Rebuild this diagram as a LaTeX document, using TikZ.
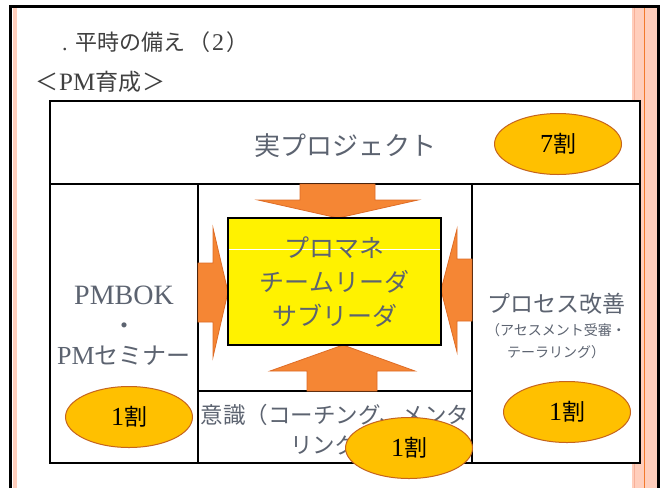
\documentclass[tikz,border=0pt]{standalone}
\usepackage{fontspec}
\setmainfont{Liberation Serif}
\newfontfamily\jp{Noto Sans CJK JP}
\usetikzlibrary{shapes.geometric}
\definecolor{txt}{RGB}{92,99,112}
\definecolor{ttl}{RGB}{64,64,64}
\definecolor{arrowfill}{RGB}{245,134,52}
\definecolor{arrowdraw}{RGB}{222,108,38}
\definecolor{ellfill}{RGB}{255,192,0}
\definecolor{elldraw}{RGB}{197,100,30}
\definecolor{peach}{RGB}{255,206,188}
\definecolor{peachdark}{RGB}{248,176,152}
\definecolor{orangeline}{RGB}{242,122,44}
\tikzset{
  cell/.style={draw=black, line width=1.5pt},
  blockarrow/.style={fill=arrowfill, draw=arrowdraw, line width=0.8pt, line join=miter},
  ratio/.style={ellipse, fill=ellfill, draw=elldraw, line width=1pt, minimum width=127pt, minimum height=61pt, inner sep=0pt, text=black, font=\fontsize{23}{27}\selectfont},
  lbl/.style={text=txt, align=center, inner sep=0pt},
}
\newcommand\lat[1]{{\fontsize{26}{30}\selectfont #1}}
\begin{document}
\begin{tikzpicture}[x=1pt,y=-1pt]
\useasboundingbox (0,0) rectangle (666,488);
\fill[white] (0,0) rectangle (666,488);
% slide frame
\fill[peach] (12.5,7) rectangle (16.5,488);
\fill[peach] (632,7) rectangle (657,488);
\draw[peachdark, line width=1pt] (634,7) -- (634,488);
\draw[orangeline, line width=1.4pt] (644.5,7) -- (644.5,488);
\draw[black, line width=3pt, line join=miter] (10.5,488) -- (10.5,6) -- (658.5,6) -- (658.5,488);
% titles
\node[anchor=west, text=ttl, inner sep=0pt, font=\fontsize{22}{26}\selectfont] (title) at (62,42) {. {\jp 平時の備え}\hspace{3pt}{\jp （}\hspace{2pt}{\fontsize{24}{26}\selectfont 2}\hspace{2pt}{\jp ）}};
\node[anchor=west, text=ttl, inner sep=0pt, font=\fontsize{23}{26}\selectfont] (subtitle) at (35,82) {{\jp ＜}\hspace{1pt}{\fontsize{25}{26}\selectfont PM}{\jp 育成}\hspace{1pt}{\jp ＞}};
% table
\filldraw[cell, fill=white] (50,101) rectangle (640,463);
\draw[cell] (50,184) -- (640,184);
\draw[cell] (198,184) -- (198,463);
\draw[cell] (472,184) -- (472,463);
\draw[cell] (198,391) -- (472,391);
% block arrows
\draw[blockarrow] (300,184) -- (375,184) -- (375,200) -- (418,200) -- (338,218) -- (258,200) -- (300,200) -- cycle;
\draw[blockarrow] (307,391) -- (377,391) -- (377,371) -- (415,371) -- (343,345) -- (270,371) -- (307,371) -- cycle;
\draw[blockarrow] (198,263) -- (213,263) -- (213,228) -- (228,292) -- (213,357) -- (213,322) -- (198,322) -- cycle;
\draw[blockarrow] (472,259) -- (457,259) -- (457,229) -- (441,290) -- (457,352) -- (457,321) -- (472,321) -- cycle;
% central box
\node[draw=black, line width=1.2pt, fill=yellow, minimum width=213pt, minimum height=127pt, inner sep=0pt] (core) at (334.5,281.5) {};
\draw[white, line width=0.6pt] (229,249) -- (440,249);
\node[lbl, font=\jp\fontsize{25}{34}\selectfont] (coretext) at (core.center) {プロマネ\\チームリーダ\\サブリーダ};
% labels
\node[lbl, font=\jp\fontsize{26}{30}\selectfont] (real) at (345,146) {実プロジェクト};
\node[lbl, font=\fontsize{24}{30}\selectfont] (pmbok) at (124,326) {{\fontsize{28}{30}\selectfont PMBOK}\\{\jp ・}\\\lat{PM}{\jp セミナー}};
\node[lbl, font=\jp\fontsize{23}{27}\selectfont] (proc) at (556,304) {プロセス改善};
\node[lbl, font=\jp\fontsize{14}{22}\selectfont] (procsub) at (556,341) {（アセスメント受審・\\テーラリング）};
\node[lbl, font=\jp\fontsize{22.5}{30}\selectfont] (mind) at (335,430) {意識（コーチング、メンタ\\リング）};
% ratio ellipses
\node[ratio] (r7) at (558,144) {\lat{7}{\jp 割}};
\node[ratio] (r1a) at (129,417) {\lat{1}{\jp 割}};
\node[ratio] (r1b) at (567,412) {\lat{1}{\jp 割}};
\node[ratio] (r1c) at (409,448) {\lat{1}{\jp 割}};
\end{tikzpicture}
\end{document}
